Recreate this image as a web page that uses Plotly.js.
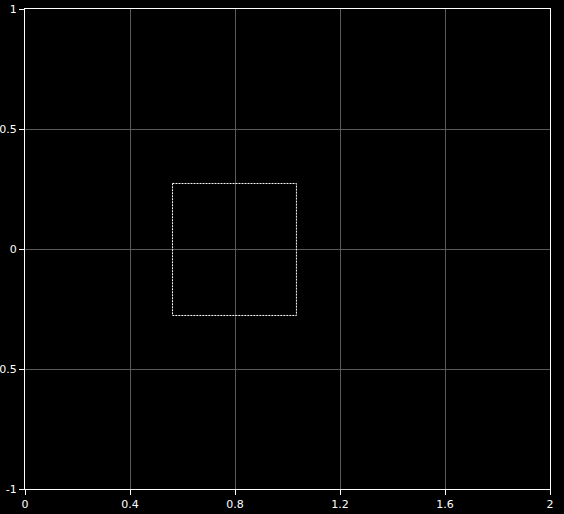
<!DOCTYPE html>
<html>
<head>
<meta charset="utf-8">
<script src="https://cdn.plot.ly/plotly-3.0.1.min.js"></script>
<style>html,body{margin:0;padding:0;background:#000;}#chart{width:564px;height:514px;}</style>
</head>
<body>
<div id="chart"></div>
<script>
// Dotted rectangle outline (corner points, closed path)
var rectX = [0.562, 1.034, 1.034, 0.562, 0.562];
var rectY = [0.273, 0.273, -0.277, -0.277, 0.273];
var xTicks = [0, 0.4, 0.8, 1.2, 1.6, 2];
var yTicks = [-1, -0.5, 0, 0.5, 1];

var trace = {
  x: rectX, y: rectY, type: 'scatter', mode: 'lines',
  line: {color: '#ffffff', width: 1, dash: '2px,1px'},
  hoverinfo: 'skip', showlegend: false
};
var axisCommon = {
  showline: true, linecolor: '#ffffff', linewidth: 1, mirror: true,
  ticks: 'outside', ticklen: 5, tickcolor: '#ffffff', tickwidth: 1,
  showgrid: true, gridcolor: '#5a5a5a', gridwidth: 1,
  zeroline: false, tickfont: {family: 'DejaVu Sans', size: 11, color: '#ffffff'},
  tickmode: 'array', fixedrange: true
};
var layout = {
  width: 564, height: 514,
  paper_bgcolor: '#000000', plot_bgcolor: '#000000',
  margin: {l: 25, r: 14, t: 9, b: 25, pad: 0},
  xaxis: Object.assign({}, axisCommon, {range: [0, 2], tickvals: xTicks, ticktext: xTicks.map(String)}),
  yaxis: Object.assign({}, axisCommon, {range: [-1, 1], tickvals: yTicks, ticktext: yTicks.map(String)}),
  showlegend: false
};
Plotly.newPlot('chart', [trace], layout, {displayModeBar: false, staticPlot: true});
</script>
</body>
</html>
